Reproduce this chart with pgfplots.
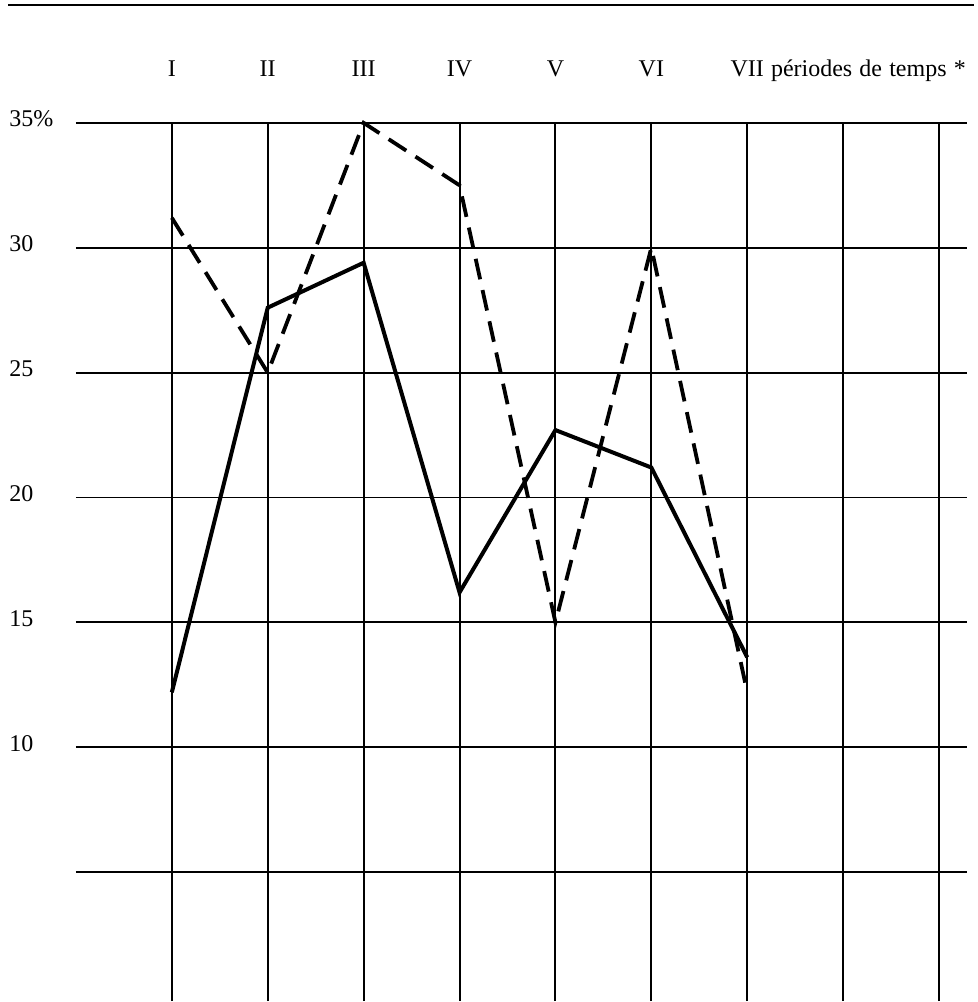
\documentclass[border=0pt]{standalone}
\usepackage{pgfplots}
\pgfplotsset{compat=1.18}
\usepackage{fontspec}
\setmainfont{Liberation Serif}

\begin{document}
\begin{tikzpicture}
\begin{axis}[
    x=48pt, y=12.5pt,
    xmin=0, xmax=9.29,
    ymin=-0.16, ymax=35,
    axis line style={draw=none},
    major tick length=0pt,
    clip=false,
    grid=major,
    major grid style={black, line width=1pt},
    xtick={1,...,9},
    xticklabels={I,II,III,IV,V,VI,{VII\rlap{\spaceskip=3.6pt plus 1pt\ p\'eriodes de temps *}},,},
    xticklabel pos=upper,
    xticklabel style={anchor=base, inner sep=0pt, yshift=23pt},
    ytick={5,10,...,35},
    yticklabels={,10,15,20,25,30,35\%},
    yticklabel style={anchor=west, inner sep=0pt, xshift=-33.5pt, yshift=2pt},
    tick label style={font=\fontsize{12}{14}\selectfont},
]
% top rule
\draw[black, line width=1pt] (axis cs:-0.708,39.72) -- (axis cs:9.365,39.72);
\path[use as bounding box] (axis cs:-0.7917,-0.16) rectangle (axis cs:9.396,39.92);

% dashed series
\addplot[black, line width=1.9pt, line join=miter, dash pattern=on 10.5pt off 5.5pt] coordinates {
    (1,31.2) (2,25) (3,35) (4,32.5) (5,15) (6,30) (7,12.2)
};
% solid series
\addplot[black, line width=2pt, line join=miter] coordinates {
    (1,12.2) (2,27.6) (3,29.4) (4,16.2) (5,22.7) (6,21.2) (7,13.6)
};
\end{axis}
\end{tikzpicture}
\end{document}
